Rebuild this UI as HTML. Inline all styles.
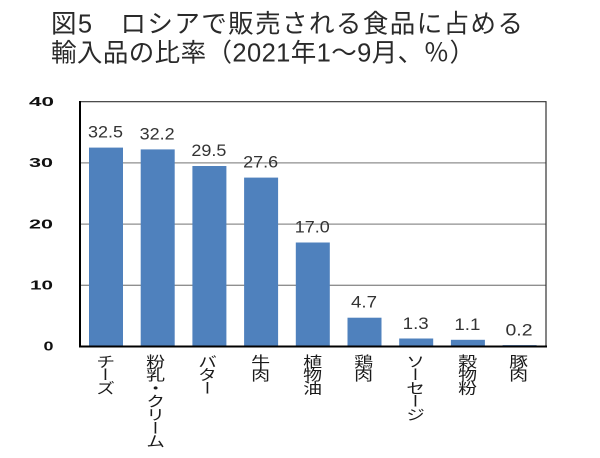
<!DOCTYPE html>
<html><head><meta charset="utf-8">
<style>
html,body{margin:0;padding:0;background:#fff;}
body{width:600px;height:458px;position:relative;overflow:hidden;}
svg{position:absolute;left:0;top:0;}
.cat{position:absolute;top:354px;width:16px;writing-mode:vertical-rl;font-family:"Noto Sans CJK JP","Liberation Sans",sans-serif;font-size:14.6px;letter-spacing:-1.3px;line-height:16px;color:#1a1a1a;transform:scaleX(1.3);transform-origin:50% 0;white-space:nowrap;}
</style></head>
<body>
<svg width="600" height="458" viewBox="0 0 600 458" xmlns="http://www.w3.org/2000/svg">
  <g font-family="'Liberation Sans','Noto Sans CJK JP',sans-serif" fill="#2a2a2a" font-size="25.5">
    <text x="51" y="32.5" textLength="472" lengthAdjust="spacing">図5　ロシアで販売される食品に占める</text>
    <text x="51" y="61.5" textLength="424" lengthAdjust="spacing">輸入品の比率（2021年1～9月、％）</text>
  </g>
  <!-- gridlines -->
  <g stroke="#8f8f8f" stroke-width="1.3">
    <line x1="81" y1="285.3" x2="546" y2="285.3"/>
    <line x1="81" y1="224.1" x2="546" y2="224.1"/>
    <line x1="81" y1="162.9" x2="546" y2="162.9"/>
  </g>
  <!-- frame -->
  <line x1="80" y1="101.7" x2="546.5" y2="101.7" stroke="#333" stroke-width="1.2"/>
  <line x1="546" y1="101.2" x2="546" y2="346.5" stroke="#333" stroke-width="1.2"/>
  <!-- bars -->
  <g fill="#4f81bd">
    <rect x="89" y="147.6" width="34" height="198.9"/>
    <rect x="140.7" y="149.4" width="34" height="197.1"/>
    <rect x="192.4" y="166" width="34" height="180.5"/>
    <rect x="244.1" y="177.6" width="34" height="168.9"/>
    <rect x="295.8" y="242.5" width="34" height="104"/>
    <rect x="347.5" y="317.7" width="34" height="28.8"/>
    <rect x="399.2" y="338.5" width="34" height="8"/>
    <rect x="450.9" y="339.8" width="34" height="6.7"/>
    <rect x="502.6" y="345.1" width="34" height="1.4"/>
  </g>
  <!-- axes -->
  <line x1="80" y1="101" x2="80" y2="347.5" stroke="#000" stroke-width="2"/>
  <line x1="79" y1="346.5" x2="547" y2="346.5" stroke="#000" stroke-width="2"/>
  <!-- value labels -->
  <g font-family="'Liberation Sans',sans-serif" font-size="16.5" fill="#333" text-anchor="middle">
    <text x="105.5" y="137.6" textLength="35" lengthAdjust="spacingAndGlyphs">32.5</text>
    <text x="157.2" y="139.4" textLength="35" lengthAdjust="spacingAndGlyphs">32.2</text>
    <text x="208.9" y="156" textLength="35" lengthAdjust="spacingAndGlyphs">29.5</text>
    <text x="260.6" y="167.6" textLength="35" lengthAdjust="spacingAndGlyphs">27.6</text>
    <text x="312.3" y="232.5" textLength="35" lengthAdjust="spacingAndGlyphs">17.0</text>
    <text x="364" y="307.7" textLength="26" lengthAdjust="spacingAndGlyphs">4.7</text>
    <text x="415.7" y="329" textLength="26" lengthAdjust="spacingAndGlyphs">1.3</text>
    <text x="467.4" y="330" textLength="26" lengthAdjust="spacingAndGlyphs">1.1</text>
    <text x="519" y="335.3" textLength="27" lengthAdjust="spacingAndGlyphs">0.2</text>
  </g>
  <!-- y-axis labels -->
  <g font-family="'Liberation Sans',sans-serif" font-size="12.5" font-weight="bold" fill="#111">
    <text x="29" y="106" textLength="25" lengthAdjust="spacingAndGlyphs">40</text>
    <text x="29" y="167.2" textLength="24" lengthAdjust="spacingAndGlyphs">30</text>
    <text x="29" y="228.4" textLength="24" lengthAdjust="spacingAndGlyphs">20</text>
    <text x="30" y="289.6" textLength="23" lengthAdjust="spacingAndGlyphs">10</text>
    <text x="43.5" y="350.6" textLength="10" lengthAdjust="spacingAndGlyphs">0</text>
  </g>
</svg>
<div class="cat" style="left:97px;">チーズ</div>
<div class="cat" style="left:147px;">粉乳・クリーム</div>
<div class="cat" style="left:199px;">バター</div>
<div class="cat" style="left:252px;">牛肉</div>
<div class="cat" style="left:304px;">植物油</div>
<div class="cat" style="left:355px;">鶏肉</div>
<div class="cat" style="left:407px;">ソーセージ</div>
<div class="cat" style="left:459px;">穀物粉</div>
<div class="cat" style="left:510px;">豚肉</div>
</body></html>
